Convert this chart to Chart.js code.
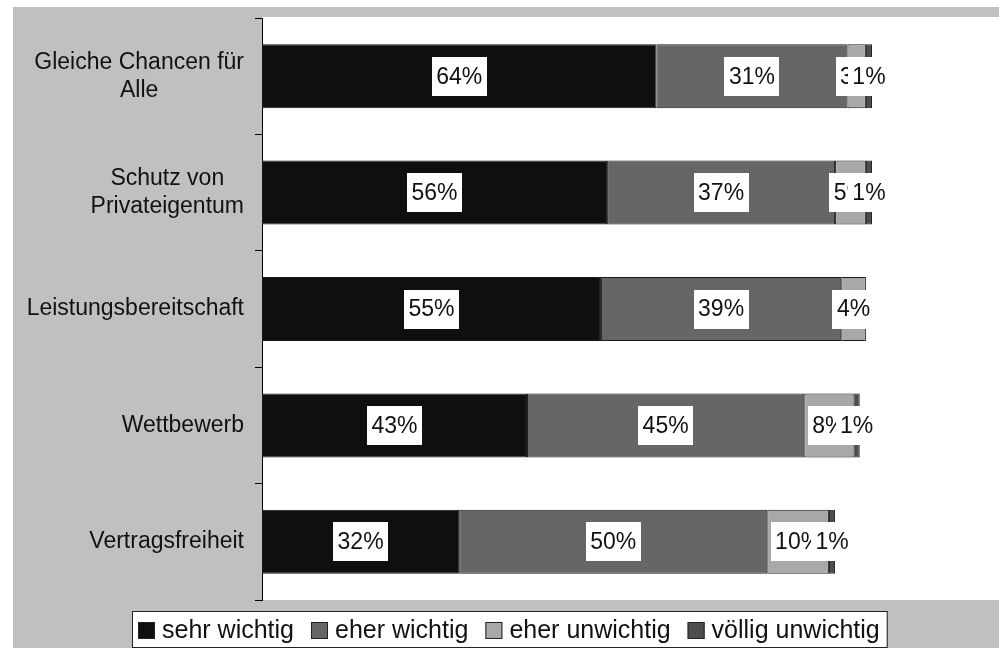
<!DOCTYPE html>
<html>
<head>
<meta charset="utf-8">
<title>Werte</title>
<script src="https://cdn.jsdelivr.net/npm/chart.js@4.4.1/dist/chart.umd.min.js"></script>
<style>
  html, body { margin: 0; padding: 0; background: #fff; }
  #wrap { width: 999px; height: 648px; }
</style>
</head>
<body>
<div id="wrap"><canvas id="valuesChart" width="999" height="648"></canvas></div>
<script>
const categories = [
  ['Gleiche Chancen für', 'Alle'],
  ['Schutz von', 'Privateigentum'],
  'Leistungsbereitschaft',
  'Wettbewerb',
  'Vertragsfreiheit'
];
const sehrWichtig = [64, 56, 55, 43, 32];
const eherWichtig = [31, 37, 39, 45, 50];
const eherUnwichtig = [3, 5, 4, 8, 10];
const voelligUnwichtig = [1, 1, null, 1, 1];
const seriesNames = ['sehr wichtig', 'eher wichtig', 'eher unwichtig', 'völlig unwichtig'];
const seriesColors = ['#0f0f0f', '#666666', '#a8a8a8', '#4d4d4d'];

const FONT = '"Liberation Sans", Arial, sans-serif';
const GREY = '#c0c0c0';

// grey frame around a white plot area
const backdrop = {
  id: 'backdrop',
  beforeDraw(chart) {
    const { ctx, chartArea: a, width, height } = chart;
    ctx.save();
    ctx.fillStyle = '#fff';
    ctx.fillRect(0, 0, width, height);
    ctx.fillStyle = GREY;
    ctx.fillRect(13, 7, width - 13, height - 7);
    ctx.fillStyle = '#fff';
    ctx.fillRect(a.left, a.top - 1, a.right - a.left, a.bottom - a.top + 1);
    ctx.restore();
  }
};

// category names: block right-aligned to the axis, lines centred inside it
const categoryLabels = {
  id: 'categoryLabels',
  afterDraw(chart) {
    const { ctx } = chart;
    const y = chart.scales.y;
    const right = chart.chartArea.left - 18;
    ctx.save();
    ctx.font = '23px ' + FONT;
    ctx.fillStyle = '#111';
    ctx.textAlign = 'center';
    ctx.textBaseline = 'middle';
    categories.forEach((cat, i) => {
      const lines = Array.isArray(cat) ? cat : [cat];
      const w = Math.max(...lines.map(l => ctx.measureText(l).width));
      const cx = right - w / 2;
      const cy = y.getPixelForTick(i);
      lines.forEach((l, j) => {
        ctx.fillText(l, cx, cy + (j - (lines.length - 1) / 2) * 28);
      });
    });
    ctx.restore();
  }
};

// percentage labels in white boxes at the middle of every segment
const valueLabels = {
  id: 'valueLabels',
  afterDatasetsDraw(chart) {
    const { ctx } = chart;
    ctx.save();
    ctx.font = '23px ' + FONT;
    ctx.textAlign = 'center';
    ctx.textBaseline = 'middle';
    chart.data.datasets.forEach((ds, i) => {
      chart.getDatasetMeta(i).data.forEach((bar, j) => {
        const v = ds.data[j];
        if (v == null) return;
        const txt = v + '%';
        const p = bar.getCenterPoint();
        const tw = ctx.measureText(txt).width;
        ctx.fillStyle = '#fff';
        ctx.fillRect(Math.round(p.x - tw / 2 - 4.5), Math.round(p.y - 19.5), Math.round(tw + 9), 39);
        ctx.fillStyle = '#111';
        ctx.fillText(txt, p.x, p.y + 1);
      });
    });
    ctx.restore();
  }
};

// boxed legend row under the plot
const legendBox = {
  id: 'legendBox',
  afterDraw(chart) {
    const { ctx } = chart;
    ctx.save();
    ctx.font = '25px ' + FONT;
    const left = 132, top = 611;
    let x = left + 6;
    const items = chart.data.datasets.map(ds => {
      const tw = ctx.measureText(ds.label).width;
      const it = { x, ds, tw };
      x += 24 + tw + 17;
      return it;
    });
    const right = x - 17 + 7;
    ctx.fillStyle = '#fff';
    ctx.fillRect(left, top, right - left, 40);
    ctx.strokeStyle = '#222';
    ctx.lineWidth = 1;
    ctx.strokeRect(left + 0.5, top + 0.5, right - left, 36);
    ctx.textBaseline = 'middle';
    items.forEach(it => {
      ctx.fillStyle = it.ds.backgroundColor;
      ctx.fillRect(it.x, 622, 17, 17);
      ctx.strokeStyle = '#222';
      ctx.strokeRect(it.x + 0.5, 622.5, 16, 16);
      ctx.fillStyle = '#111';
      ctx.fillText(it.ds.label, it.x + 24, 631);
    });
    ctx.restore();
  }
};

const seriesData = [sehrWichtig, eherWichtig, eherUnwichtig, voelligUnwichtig];

new Chart(document.getElementById('valuesChart'), {
  type: 'bar',
  data: {
    labels: categories,
    datasets: seriesData.map((d, i) => ({
      label: seriesNames[i],
      data: d,
      backgroundColor: seriesColors[i],
      borderColor: '#1a1a1a',
      borderWidth: 1,
      borderSkipped: false,
      categoryPercentage: 1,
      barPercentage: 0.55
    }))
  },
  options: {
    indexAxis: 'y',
    responsive: false,
    animation: false,
    devicePixelRatio: 1,
    layout: { padding: { left: 13, top: 18, right: 0, bottom: 48 } },
    plugins: {
      legend: { display: false },
      tooltip: { enabled: false },
      title: { display: false }
    },
    scales: {
      x: {
        stacked: true,
        display: false,
        min: 0,
        max: 119.6
      },
      y: {
        stacked: true,
        offset: true,
        afterFit(scale) { scale.width = 249; },
        ticks: { display: false },
        grid: {
          offset: true,
          drawOnChartArea: false,
          drawTicks: true,
          tickLength: 7,
          color: '#000',
          lineWidth: 1
        },
        border: { display: true, color: '#000', width: 1 }
      }
    }
  },
  plugins: [backdrop, valueLabels, categoryLabels, legendBox]
});
</script>
</body>
</html>
